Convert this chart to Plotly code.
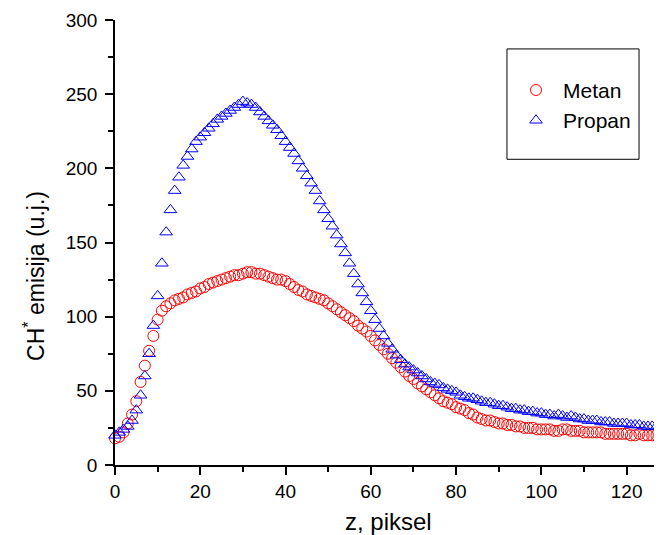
import plotly.graph_objects as go

z = list(range(0, 129))

metan = [18, 19, 22, 28, 34, 43, 56, 67, 77, 87,
         98, 104, 107, 109, 111, 112, 113, 115, 116, 117,
         119, 120, 122, 123, 124, 125, 126, 127, 128, 128,
         129, 130, 130, 129, 129, 128, 127, 126, 125, 125,
         124, 122, 120, 118, 117, 115, 114, 113, 112, 111,
         109, 107, 105, 103, 101, 99, 97, 94, 92, 90,
         87, 84, 81, 78, 75, 72, 69, 66, 63, 60,
         58, 55, 53, 51, 49, 47, 45, 43, 42, 41,
         39, 38, 37, 35, 34, 32, 31, 30, 30, 29,
         28, 28, 27, 27, 26, 26, 25, 25, 25, 24,
         24, 24, 24, 23, 23, 24, 24, 23, 23, 23,
         22, 22, 22, 22, 22, 21, 21, 21, 21, 21,
         21, 20, 20, 21, 20, 20, 20, 20, 20]

propan = [20, 22, 24, 26, 30, 37, 47, 60, 75, 94,
          114, 136, 157, 172, 185, 194, 202, 208, 213, 218,
          221, 224, 227, 230, 233, 235, 237, 239, 241, 243,
          245, 244, 243, 241, 238, 235, 232, 229, 226, 222,
          218, 214, 210, 205, 200, 195, 190, 185, 178, 172,
          166, 161, 155, 149, 143, 136, 129, 122, 116, 110,
          104, 98, 92, 87, 82, 78, 74, 71, 68, 66,
          64, 62, 60, 58, 56, 55, 54, 52, 51, 50,
          49, 47, 46, 45, 45, 44, 43, 42, 42, 41,
          40, 40, 39, 38, 38, 37, 37, 36, 36, 35,
          35, 34, 34, 33, 34, 33, 32, 33, 32, 31,
          31, 30, 30, 30, 29, 29, 29, 28, 28, 28,
          28, 27, 27, 27, 26, 26, 26, 26, 25]

x_ticks = [0, 20, 40, 60, 80, 100, 120]
y_ticks = [0, 50, 100, 150, 200, 250, 300]

FONT = "Liberation Sans, Arial, sans-serif"

fig = go.Figure()
fig.add_trace(go.Scatter(
    x=z, y=metan, mode="markers", name="Metan", cliponaxis=False,
    marker=dict(symbol="circle-open", size=11, color="#ff0000",
                line=dict(width=1, color="#ff0000")),
))
fig.add_trace(go.Scatter(
    x=z, y=propan, mode="markers", name="Propan", cliponaxis=False,
    marker=dict(symbol="triangle-up-open", size=11, color="#0000ff",
                line=dict(width=1, color="#0000ff")),
))

axis_common = dict(
    showgrid=False, zeroline=False, showline=True, linecolor="black",
    linewidth=1.5, ticks="outside", ticklen=8, tickwidth=1.5,
    tickcolor="black", mirror=False,
    tickfont=dict(family=FONT, size=19, color="black"),
)

# page body has an 8px default margin, so the figure is 8px smaller
fig.update_layout(
    width=654, height=527,
    margin=dict(l=107, r=0, t=12, b=70),
    paper_bgcolor="white", plot_bgcolor="white",
    showlegend=True,
    legend=dict(x=0.7203, y=0.888, xanchor="left", yanchor="top",
                bgcolor="rgba(0,0,0,0)", borderwidth=0,
                itemwidth=44, tracegroupgap=0,
                font=dict(family=FONT, size=21, color="black")),
    xaxis=dict(range=[0, 128.3], tickvals=x_ticks,
               minor=dict(ticks="outside", ticklen=5, dtick=10,
                          tickwidth=1.5, tickcolor="black"),
               **axis_common),
    yaxis=dict(range=[0, 300], tickvals=y_ticks, ticklabelstandoff=4,
               minor=dict(ticks="outside", ticklen=5, dtick=25,
                          tickwidth=1.5, tickcolor="black"),
               **axis_common),
    shapes=[dict(type="rect", xref="paper", yref="paper",
                 x0=0.7166, x1=0.958, y0=0.687, y1=0.935,
                 line=dict(color="black", width=1), fillcolor="rgba(0,0,0,0)")],
    annotations=[
        dict(text="z, piksel", xref="paper", yref="paper", x=0.5, y=-0.128,
             xanchor="center", yanchor="middle", showarrow=False,
             font=dict(family=FONT, size=24, color="black")),
        dict(text="CH<sup>*</sup> emisija (u.j.)", xref="paper", yref="paper",
             x=-0.148, y=0.425, xanchor="center", yanchor="middle",
             textangle=-90, showarrow=False,
             font=dict(family=FONT, size=23, color="black")),
    ],
)

fig.write_html("out.html")
